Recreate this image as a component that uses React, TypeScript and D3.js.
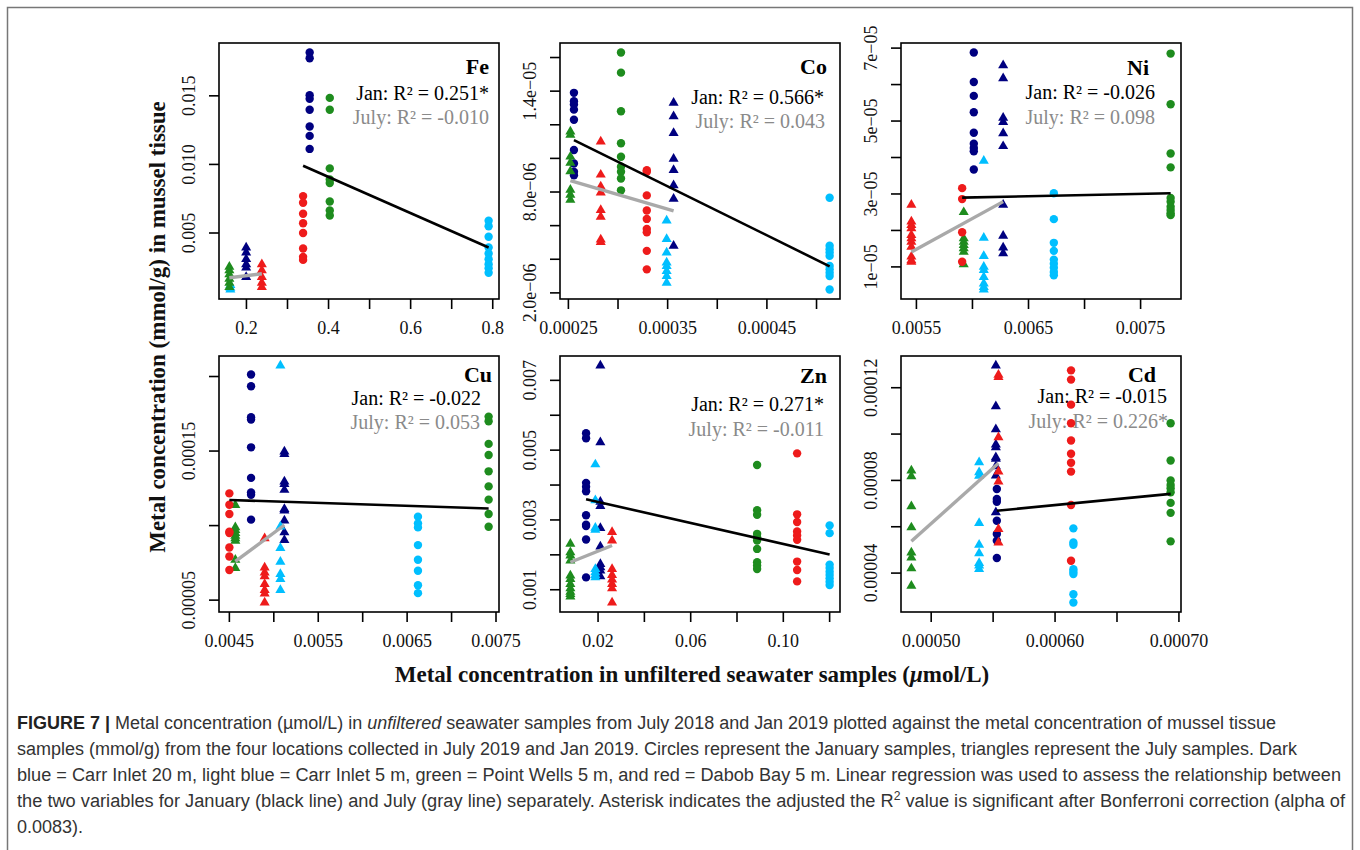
import React from 'react';
import * as d3 from 'd3';

// ---------- DATA (order of locations: Carr Inlet 20 m, Carr Inlet 5 m, Point Wells 5 m, Dabob Bay 5 m) ----------
const locations = ['Carr Inlet 20 m', 'Carr Inlet 5 m', 'Point Wells 5 m', 'Dabob Bay 5 m'];

// Fe
const feJanX = [0.354, 0.790, 0.403, 0.338];
const feJanY = [
  [0.01816, 0.01774, 0.01504, 0.01478, 0.01399, 0.01276, 0.01208, 0.01113],
  [0.0059, 0.00549, 0.00473, 0.00394, 0.0035, 0.00309, 0.00272, 0.00243, 0.0021],
  [0.01485, 0.01399, 0.00971, 0.0089, 0.00865, 0.0073, 0.00664, 0.00627],
  [0.00769, 0.00721, 0.0064, 0.00571, 0.005, 0.00387, 0.00326, 0.00304],
];
const feJulX = [0.1993, 0.1608, 0.1584, 0.2375];
const feJulY = [
  [0.00394, 0.00357, 0.00309, 0.00272, 0.00247, 0.00179],
  [0.0012, 0.001, 0.00088],
  [0.00254, 0.00228, 0.00199, 0.00166, 0.00137, 0.00105],
  [0.00272, 0.00228, 0.00179, 0.00137, 0.00105],
];
const feJanFit = [0.0099, 0.00394];
const feJulFit = [0.00174, 0.00203];

// Co
const coJanX = [0.0002556, 0.0005132, 0.000303, 0.000329];
const coJanY = [
  [1.39e-5, 1.34e-5, 1.32e-5, 1.29e-5, 1.23e-5, 1.05e-5, 9.7e-6, 9.2e-6, 9.0e-6],
  [7.66e-6, 4.8e-6, 4.6e-6, 4.4e-6, 4.2e-6, 3.6e-6, 3.4e-6, 3.2e-6, 3.0e-6, 2.2e-6],
  [1.63e-5, 1.51e-5, 1.28e-5, 1.09e-5, 1.01e-5, 9.5e-6, 9.2e-6, 8.8e-6, 8.1e-6],
  [9.3e-6, 9.2e-6, 7.8e-6, 6.9e-6, 6.4e-6, 5.8e-6, 5.6e-6, 4.5e-6, 3.4e-6],
];
const coJulX = [0.000356, 0.000349, 0.000252, 0.0002826];
const coJulY = [
  [1.33e-5, 1.25e-5, 1.15e-5, 9.97e-6, 9.3e-6, 8.4e-6, 7.6e-6, 4.8e-6],
  [6.3e-6, 5.2e-6, 4.4e-6, 3.8e-6, 3.6e-6, 3.3e-6, 3.0e-6, 2.6e-6],
  [1.16e-5, 1.14e-5, 1.01e-5, 9.73e-6, 9.23e-6, 8.13e-6, 7.83e-6, 7.53e-6],
  [1.1e-5, 9.03e-6, 8.32e-6, 7.96e-6, 6.92e-6, 6.52e-6, 5.17e-6, 5.02e-6],
];
const coJanFit = [1.109e-5, 3.58e-6];
const coJulFit = [8.68e-6, 6.88e-6];

// Ni
const niJanX = [0.006012, 0.006726, 0.007768, 0.005908];
const niJanY = [
  [6.88e-5, 6.07e-5, 5.69e-5, 5.24e-5, 4.68e-5, 4.38e-5, 4.26e-5, 4.17e-5, 3.67e-5],
  [3.02e-5, 2.31e-5, 1.66e-5, 1.44e-5, 1.2e-5, 1.09e-5, 0.98e-5, 0.86e-5, 0.77e-5],
  [6.85e-5, 5.46e-5, 4.11e-5, 3.73e-5, 2.89e-5, 2.79e-5, 2.65e-5, 2.56e-5, 2.47e-5, 2.42e-5],
  [3.16e-5, 2.86e-5, 1.95e-5, 1.14e-5],
];
const niJulX = [0.006274, 0.006101, 0.005922, 0.005455];
const niJulY = [
  [6.53e-5, 6.17e-5, 5.09e-5, 4.97e-5, 4.66e-5, 4.31e-5, 2.7e-5, 1.85e-5, 1.53e-5, 1.37e-5],
  [3.91e-5, 1.8e-5, 1.3e-5, 1.0e-5, 0.91e-5, 0.72e-5, 0.54e-5, 0.45e-5, 0.38e-5],
  [2.5e-5, 1.78e-5, 1.69e-5, 1.6e-5, 1.51e-5, 1.41e-5, 1.07e-5],
  [2.7e-5, 2.24e-5, 2.15e-5, 2.06e-5, 1.87e-5, 1.78e-5, 1.69e-5, 1.55e-5, 1.28e-5, 1.18e-5, 1.14e-5],
];
const niJanFit = [2.9e-5, 3.02e-5];
const niJulFit = [1.41e-5, 2.79e-5];

// Cu
const cuJanX = [0.004744, 0.006622, 0.007417, 0.0045];
const cuJanY = [
  [0.0002014, 0.0001935, 0.0001727, 0.0001711, 0.0001525, 0.000132, 0.0001223, 0.0001207, 0.000104],
  [0.000106, 0.0001015, 0.0000988, 0.0000869, 0.0000771, 0.0000697, 0.00006, 0.0000547],
  [0.0001731, 0.00017, 0.0001548, 0.0001474, 0.0001364, 0.0001263, 0.0001174, 0.0001078, 0.0000992],
  [0.0001216, 0.000114, 0.0001078, 0.0000959, 0.000095, 0.0000853, 0.0000793, 0.0000702],
];
const cuJulX = [0.005119, 0.005074, 0.004567, 0.004897];
const cuJulY = [
  [0.0001496, 0.000148, 0.0001295, 0.0001279, 0.0001239, 0.0001111, 0.00011, 0.0001033, 0.0000954, 0.0000903],
  [0.0002074, 0.0000994, 0.0000849, 0.0000757, 0.0000675, 0.0000641, 0.0000567],
  [0.0001138, 0.0000988, 0.000097, 0.000095, 0.0000932, 0.0000914, 0.0000898, 0.0000771, 0.0000715],
  [0.0000914, 0.0000719, 0.0000685, 0.0000659, 0.0000607, 0.0000567, 0.0000544, 0.0000484],
];
const cuJanFit = [0.0001172, 0.0001115];
const cuJulFit = [0.000076, 0.0001004];

// Zn
const znJanX = [0.01482, 0.12, 0.08868, 0.10596];
const znJanY = [
  [0.005484, 0.00534, 0.004063, 0.003948, 0.003824, 0.003133, 0.002862, 0.002824, 0.002441, 0.001354],
  [0.002844, 0.002622, 0.00172, 0.001622, 0.001519, 0.001421, 0.001326, 0.001231, 0.001133],
  [0.004573, 0.003277, 0.00315, 0.002602, 0.002507, 0.002412, 0.00217, 0.001787, 0.001692, 0.001594],
  [0.004908, 0.003161, 0.00294, 0.002671, 0.002556, 0.002429, 0.001807, 0.001565, 0.001239],
];
const znJulX = [0.02099, 0.01883, 0.00804, 0.02605];
const znJulY = [
  [0.007426, 0.005225, 0.003516, 0.0034, 0.002767, 0.002239, 0.001738, 0.001643, 0.001548, 0.001383],
  [0.00459, 0.003565, 0.002775, 0.002718, 0.001594, 0.001499, 0.001421, 0.001354],
  [0.002314, 0.002075, 0.00198, 0.001836, 0.001403, 0.001305, 0.001161, 0.001037, 0.000942, 0.000873, 0.000807],
  [0.002651, 0.002412, 0.001594, 0.001421, 0.001288, 0.001161, 0.001037, 0.000634],
];
const znJanFit = [0.003594, 0.002009];
const znJulFit = [0.001787, 0.002268];

// Cd
const cdJanX = [0.000553, 0.0006148, 0.0006933, 0.0006129];
const cdJanY = [
  [0.0000763, 0.000072, 0.0000708, 0.0000626, 0.0000569, 0.000054, 0.0000465],
  [0.0000593, 0.0000532, 0.0000522, 0.0000417, 0.0000406, 0.0000396, 0.0000309, 0.0000273],
  [0.0001047, 0.0000886, 0.00008, 0.000078, 0.0000766, 0.0000749, 0.0000703, 0.000066, 0.0000537],
  [0.0001275, 0.0001235, 0.0001127, 0.0001047, 0.0000972, 0.0000915, 0.0000876, 0.0000838, 0.0000694, 0.0000453],
];
const cdJulX = [0.0005522, 0.0005387, 0.000484, 0.0005543];
const cdJulY = [
  [0.0001296, 0.000112, 0.000102, 0.0000955, 0.0000943, 0.00009, 0.0000893, 0.0000861, 0.0000821, 0.0000662],
  [0.0000878, 0.0000835, 0.000082, 0.0000616, 0.0000522, 0.0000485, 0.0000443, 0.0000432, 0.0000417],
  [0.0000842, 0.0000818, 0.0000688, 0.0000597, 0.0000489, 0.0000467, 0.000042, 0.0000345],
  [0.0001256, 0.0001246, 0.0000986, 0.0000838, 0.0000795, 0.000059, 0.0000532],
];
const cdJanFit = [0.0000669, 0.0000742];
const cdJulFit = [0.0000537, 0.0000874];

// Tick values and labels
const feXTicks = [0.2, 0.3, 0.4, 0.5, 0.6, 0.7, 0.8];
const feXLabels = ['0.2', '', '0.4', '', '0.6', '', '0.8'];
const feYTicks = [0.005, 0.01, 0.015];
const feYLabels = ['0.005', '0.010', '0.015'];

const coXTicks = [0.00025, 0.0003, 0.00035, 0.0004, 0.00045, 0.0005];
const coXLabels = ['0.00025', '', '0.00035', '', '0.00045', ''];
const coYTicks = [2e-6, 4e-6, 6e-6, 8e-6, 1e-5, 1.2e-5, 1.4e-5, 1.6e-5];
const coYLabels = ['2.0e\u221206', '', '', '8.0e\u221206', '', '', '1.4e\u221205', ''];

const niXTicks = [0.0055, 0.006, 0.0065, 0.007, 0.0075];
const niXLabels = ['0.0055', '', '0.0065', '', '0.0075'];
const niYTicks = [1e-5, 2e-5, 3e-5, 4e-5, 5e-5, 6e-5, 7e-5];
const niYLabels = ['1e\u221205', '', '3e\u221205', '', '5e\u221205', '', '7e\u221205'];

const cuXTicks = [0.0045, 0.005, 0.0055, 0.006, 0.0065, 0.007, 0.0075];
const cuXLabels = ['0.0045', '', '0.0055', '', '0.0065', '', '0.0075'];
const cuYTicks = [0.00005, 0.0001, 0.00015, 0.0002];
const cuYLabels = ['0.00005', '', '0.00015', ''];

const znXTicks = [0.02, 0.04, 0.06, 0.08, 0.1, 0.12];
const znXLabels = ['0.02', '', '0.06', '', '0.10', ''];
const znYTicks = [0.001, 0.002, 0.003, 0.004, 0.005, 0.006, 0.007];
const znYLabels = ['0.001', '', '0.003', '', '0.005', '', '0.007'];

const cdXTicks = [0.0005, 0.00055, 0.0006, 0.00065, 0.0007];
const cdXLabels = ['0.00050', '', '0.00060', '', '0.00070'];
const cdYTicks = [0.00004, 0.00006, 0.00008, 0.0001, 0.00012];
const cdYLabels = ['0.00004', '', '0.00008', '', '0.00012'];

const metals = ['Fe', 'Co', 'Ni', 'Cu', 'Zn', 'Cd'];
const janR2 = ['0.251*', '0.566*', '-0.026', '-0.022', '0.271*', '-0.015'];
const julR2 = ['-0.010', '0.043', '0.098', '0.053', '-0.011', '0.226*'];

// ---------- STYLE / LAYOUT ----------
const COLORS = ['#000080', '#00BFFF', '#1E8C1E', '#EE1B1B'];
const SERIF = '"Liberation Serif", "DejaVu Serif", serif';
const SANS = '"Liberation Sans Narrow", "Liberation Sans", Arial, sans-serif';
const PW = 280;
const PH = 256;
const COL_X = [219, 560, 901];
const ROW_Y = [43, 356];
// text offsets per panel: [titleDx, titleDy, janDx, janDy, julDx, julDy] relative to top-right of frame
const TEXT_POS = [
  [-10, 31, -10, 57, -10, 81],
  [-13, 31, -16, 61, -15, 85],
  [-32, 32, -26, 56, -26, 81],
  [-7, 26, -18, 49, -19, 73],
  [-13, 27, -16, 55, -16, 80],
  [-25, 26, -14, 47, -13, 72],
];

type PanelData = {
  janX: number[]; janY: number[][]; julX: number[]; julY: number[][];
  janFit: number[]; julFit: number[];
  xTicks: number[]; xLabels: string[]; yTicks: number[]; yLabels: string[];
};

const panels: PanelData[] = [
  { janX: feJanX, janY: feJanY, julX: feJulX, julY: feJulY, janFit: feJanFit, julFit: feJulFit, xTicks: feXTicks, xLabels: feXLabels, yTicks: feYTicks, yLabels: feYLabels },
  { janX: coJanX, janY: coJanY, julX: coJulX, julY: coJulY, janFit: coJanFit, julFit: coJulFit, xTicks: coXTicks, xLabels: coXLabels, yTicks: coYTicks, yLabels: coYLabels },
  { janX: niJanX, janY: niJanY, julX: niJulX, julY: niJulY, janFit: niJanFit, julFit: niJulFit, xTicks: niXTicks, xLabels: niXLabels, yTicks: niYTicks, yLabels: niYLabels },
  { janX: cuJanX, janY: cuJanY, julX: cuJulX, julY: cuJulY, janFit: cuJanFit, julFit: cuJulFit, xTicks: cuXTicks, xLabels: cuXLabels, yTicks: cuYTicks, yLabels: cuYLabels },
  { janX: znJanX, janY: znJanY, julX: znJulX, julY: znJulY, janFit: znJanFit, julFit: znJulFit, xTicks: znXTicks, xLabels: znXLabels, yTicks: znYTicks, yLabels: znYLabels },
  { janX: cdJanX, janY: cdJanY, julX: cdJulX, julY: cdJulY, janFit: cdJanFit, julFit: cdJulFit, xTicks: cdXTicks, xLabels: cdXLabels, yTicks: cdYTicks, yLabels: cdYLabels },
];

const triPath = d3.symbol().type(d3.symbolTriangle).size(44)() as string;

function Panel({ p, idx }: { p: PanelData; idx: number }) {
  const left = COL_X[idx % 3];
  const top = ROW_Y[Math.floor(idx / 3)];
  const right = left + PW;
  const bottom = top + PH;

  const allX = [...p.janX, ...p.julX];
  const allY = [...p.janY.flat(), ...p.julY.flat()];
  const [xa, xb] = d3.extent(allX) as [number, number];
  const [ya, yb] = d3.extent(allY) as [number, number];
  const px = (xb - xa) * 0.04;
  const py = (yb - ya) * 0.04;
  const x = d3.scaleLinear().domain([xa - px, xb + px]).range([left, right]);
  const y = d3.scaleLinear().domain([ya - py, yb + py]).range([bottom, top]);

  const line = d3.line<[number, number]>().x(d => x(d[0])).y(d => y(d[1]));
  const janExt = d3.extent(p.janX) as [number, number];
  const julExt = d3.extent(p.julX) as [number, number];
  const janLine = line([[janExt[0], p.janFit[0]], [janExt[1], p.janFit[1]]]) as string;
  const julLine = line([[julExt[0], p.julFit[0]], [julExt[1], p.julFit[1]]]) as string;

  const tp = TEXT_POS[idx];
  const order = [0, 1, 2, 3];

  return (
    <g>
      {/* annotation text */}
      <text x={right + tp[0]} y={top + tp[1]} textAnchor="end" fontFamily={SERIF} fontWeight="bold" fontSize={22} fill="#000">{metals[idx]}</text>
      <text x={right + tp[2]} y={top + tp[3]} textAnchor="end" fontFamily={SERIF} fontSize={20} fill="#000">{`Jan: R\u00B2 = ${janR2[idx]}`}</text>
      <text x={right + tp[4]} y={top + tp[5]} textAnchor="end" fontFamily={SERIF} fontSize={20} fill="#8a8a8a">{`July: R\u00B2 = ${julR2[idx]}`}</text>

      {/* points */}
      {order.map(k => (
        <g key={'g' + k}>
          {p.janY[k].map((v, i) => (
            <circle key={'c' + i} cx={x(p.janX[k])} cy={y(v)} r={4.2} fill={COLORS[k]} />
          ))}
          {p.julY[k].map((v, i) => (
            <path key={'t' + i} d={triPath} transform={`translate(${x(p.julX[k])},${y(v)})`} fill={COLORS[k]} />
          ))}
        </g>
      ))}

      {/* regression lines */}
      <path d={janLine} stroke="#000" strokeWidth={2.6} fill="none" />
      <path d={julLine} stroke="#A9A9A9" strokeWidth={3.4} fill="none" />

      {/* frame */}
      <rect x={left} y={top} width={PW} height={PH} fill="none" stroke="#000" strokeWidth={1.6} />

      {/* x axis */}
      {p.xTicks.map((t, i) => (
        <g key={'xt' + i}>
          <line x1={x(t)} x2={x(t)} y1={bottom} y2={bottom + 10} stroke="#000" strokeWidth={1.6} />
          {p.xLabels[i] && (
            <text x={x(t)} y={bottom + 35} textAnchor="middle" fontFamily={SERIF} fontSize={18} fill="#111">{p.xLabels[i]}</text>
          )}
        </g>
      ))}
      {/* y axis */}
      {p.yTicks.map((t, i) => (
        <g key={'yt' + i}>
          <line x1={left - 10} x2={left} y1={y(t)} y2={y(t)} stroke="#000" strokeWidth={1.6} />
          {p.yLabels[i] && (
            <text transform={`translate(${left - 24},${y(t)}) rotate(-90)`} textAnchor="middle" fontFamily={SERIF} fontSize={18} fill="#111">{p.yLabels[i]}</text>
          )}
        </g>
      ))}
    </g>
  );
}

export default function App() {
  return (
    <svg width={1360} height={850} style={{ position: 'absolute', left: 0, top: 0, background: '#fff' }}>
      <rect x={0} y={0} width={1360} height={850} fill="#fff" />
      <rect x={7.5} y={7.5} width={1345} height={900} fill="none" stroke="#777" strokeWidth={1.5} />
      {panels.map((p, i) => <Panel key={i} p={p} idx={i} />)}

      <text transform="translate(165,327) rotate(-90)" textAnchor="middle" fontFamily={SERIF} fontWeight="bold" fontSize={23} fill="#111">
        Metal concentration (mmol/g) in mussel tissue
      </text>
      <text x={692} y={682} textAnchor="middle" fontFamily={SERIF} fontWeight="bold" fontSize={23} fill="#111">
        Metal concentration in unfiltered seawater samples (<tspan fontStyle="italic">{'\u03BC'}</tspan>mol/L)
      </text>

      <g fontFamily={SANS} fontSize={18} fill="#333">
        <text x={17} y={729} textLength={1259} lengthAdjust="spacingAndGlyphs">
          <tspan fontWeight="bold" fill="#222">FIGURE 7 | </tspan>Metal concentration ({'\u00B5'}mol/L) in <tspan fontStyle="italic">unfiltered</tspan> seawater samples from July 2018 and Jan 2019 plotted against the metal concentration of mussel tissue
        </text>
        <text x={17} y={755} textLength={1280} lengthAdjust="spacingAndGlyphs">
          samples (mmol/g) from the four locations collected in July 2019 and Jan 2019. Circles represent the January samples, triangles represent the July samples. Dark
        </text>
        <text x={17} y={781} textLength={1324} lengthAdjust="spacingAndGlyphs">
          blue = Carr Inlet 20 m, light blue = Carr Inlet 5 m, green = Point Wells 5 m, and red = Dabob Bay 5 m. Linear regression was used to assess the relationship between
        </text>
        <text x={17} y={807} textLength={1328} lengthAdjust="spacingAndGlyphs">
          the two variables for January (black line) and July (gray line) separately. Asterisk indicates the adjusted the R<tspan dy={-7} fontSize={12}>2</tspan><tspan dy={7}> value is significant after Bonferroni correction (alpha of</tspan>
        </text>
        <text x={17} y={833}>0.0083).</text>
      </g>
    </svg>
  );
}
